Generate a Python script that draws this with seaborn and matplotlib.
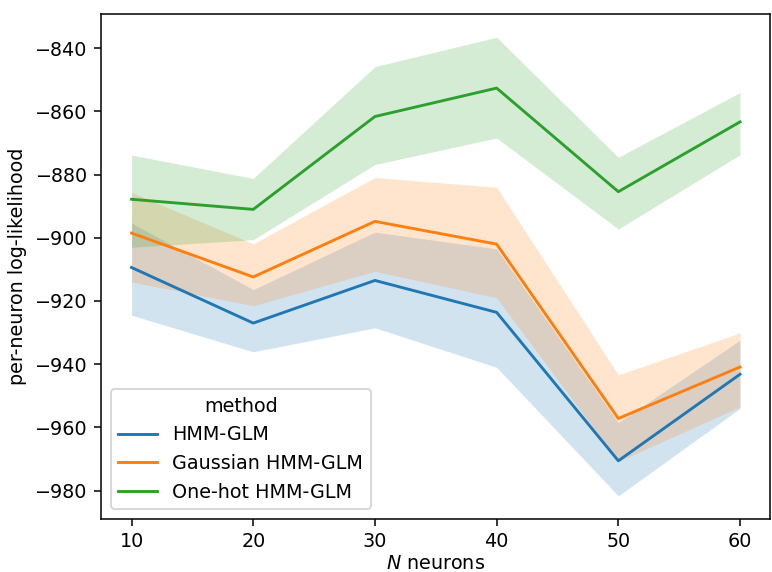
import numpy as np
import pandas as pd
import seaborn as sns
import matplotlib.pyplot as plt

n_neurons = [10, 20, 30, 40, 50, 60]
methods = ["HMM-GLM", "Gaussian HMM-GLM", "One-hot HMM-GLM"]

# mean curve and band edges
hmm_mid = [-909.4, -927.0, -913.5, -923.6, -970.6, -943.2]
hmm_lo = [-924.5, -936.1, -928.5, -941.0, -981.7, -954.0]
hmm_hi = [-895.3, -916.4, -898.2, -903.5, -958.5, -932.4]

gauss_mid = [-898.5, -912.4, -894.8, -902.0, -957.2, -940.9]
gauss_lo = [-914.0, -921.5, -910.6, -919.0, -970.8, -953.5]
gauss_hi = [-885.6, -901.9, -880.9, -884.0, -943.4, -930.1]

onehot_mid = [-887.8, -891.0, -861.6, -852.6, -885.4, -863.3]
onehot_lo = [-903.0, -900.6, -876.8, -868.4, -897.2, -873.7]
onehot_hi = [-873.8, -881.2, -845.8, -836.5, -874.5, -854.0]


def long_rows(method, lo, mid, hi):
    rows = []
    for n, a, b, c in zip(n_neurons, lo, mid, hi):
        for v in (a, b, c):
            rows.append({"N": n, "ll": v, "method": method})
    return rows


rows = (long_rows(methods[0], hmm_lo, hmm_mid, hmm_hi)
        + long_rows(methods[1], gauss_lo, gauss_mid, gauss_hi)
        + long_rows(methods[2], onehot_lo, onehot_mid, onehot_hi))
df = pd.DataFrame(rows)

dpi = 138
fig, ax = plt.subplots(figsize=(772 / dpi, 572 / dpi), dpi=dpi)
# median of (lo, mid, hi) gives the curve, full range gives the band
sns.lineplot(data=df, x="N", y="ll", hue="method", hue_order=methods,
             estimator="median", errorbar=("pi", 100),
             err_kws={"linewidth": 0}, ax=ax)
ax.set_xlabel("$N$ neurons", labelpad=1.5)
ax.set_ylabel("per-neuron log-likelihood")
ax.legend(title="method", loc="lower left")
plt.subplots_adjust(left=0.131, right=0.998, top=0.975, bottom=0.093)
plt.savefig("out.png", dpi=dpi)
